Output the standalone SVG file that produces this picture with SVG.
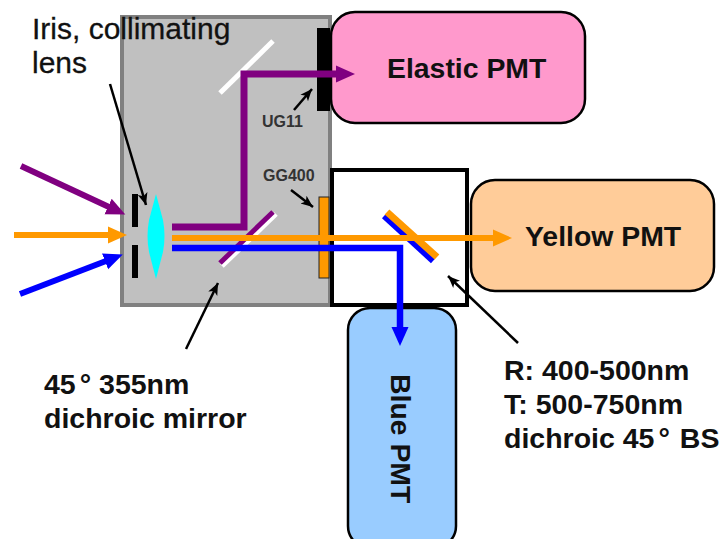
<svg xmlns="http://www.w3.org/2000/svg" width="723" height="539" viewBox="0 0 723 539">
<defs>
<style>
text{font-family:"Liberation Sans",Arial,sans-serif;font-weight:bold;fill:#111}
.lbl{font-size:28.500px}
.pmt{font-size:28.400px}
.small{font-size:16px;fill:#333}
.k{stroke:#000;fill:none}
.iris{font-weight:normal;font-size:30px;stroke:#111;stroke-width:.3}
</style>
<marker id="ap" markerUnits="userSpaceOnUse" markerWidth="20" markerHeight="20" refX="1" refY="10" orient="auto"><path d="M0 1.500L19 10L0 18.500Z" fill="#800080"/></marker>
<marker id="ao" markerUnits="userSpaceOnUse" markerWidth="20" markerHeight="20" refX="1" refY="10" orient="auto"><path d="M0 1.500L19 10L0 18.500Z" fill="#ff9900"/></marker>
<marker id="ab" markerUnits="userSpaceOnUse" markerWidth="20" markerHeight="20" refX="1" refY="10" orient="auto"><path d="M0 1.500L19 10L0 18.500Z" fill="#0000ff"/></marker>
<marker id="ak" markerUnits="userSpaceOnUse" markerWidth="14" markerHeight="12" refX="12" refY="6" orient="auto"><path d="M0 1L12 6L0 11L3 6Z" fill="#000"/></marker>
</defs>
<g id="housing"><rect x="122" y="17" width="208" height="288" fill="#c0c0c0" stroke="#808080" stroke-width="4"/></g>
<g id="elastic-pmt"><rect x="331" y="12" width="254" height="111" rx="24" fill="#ff99cc" stroke="#000" stroke-width="2.500"/><text class="pmt" x="387" y="78">Elastic PMT</text></g>
<g id="yellow-pmt"><rect x="471" y="180" width="243" height="111" rx="24" fill="#ffcc99" stroke="#000" stroke-width="2.500"/><text class="pmt" x="525" y="246">Yellow PMT</text></g>
<g id="blue-pmt"><rect x="348" y="308" width="108" height="240" rx="22" fill="#99ccff" stroke="#000" stroke-width="2.500"/><text class="pmt" transform="translate(391 374) rotate(90)">Blue PMT</text></g>
<g id="box"><rect x="332" y="170" width="135" height="135" fill="#fff" stroke="#000" stroke-width="4"/></g>
<g id="ug11-filter"><rect x="317" y="28" width="13" height="83" fill="#000"/></g>
<g id="gg400-filter"><rect x="319" y="197" width="10" height="81" fill="#ff9900" stroke="#222" stroke-width="1"/></g>
<g id="iris"><rect x="132" y="194" width="6" height="33" fill="#000"/><rect x="132" y="245" width="6" height="33" fill="#000"/></g>
<g id="lens"><path d="M156 194L163 220Q166 236 163 252L156 279L149 252Q146 236 149 220Z" fill="#00ffff"/></g>
<g id="mirrors">
<path d="M220 93L273 41" stroke="#fff" stroke-width="5"/>
<path d="M222 266L276 214" stroke="#fff" stroke-width="5"/>
<path d="M220 263L273 212" stroke="#800080" stroke-width="5"/>
<path d="M384 216L433 261" stroke="#0000ff" stroke-width="6"/>
<path d="M387 212L437 257" stroke="#ff9900" stroke-width="7"/>
</g>
<g id="connectors" fill="none">
<path d="M21 166L109 207" stroke="#800080" stroke-width="6" marker-end="url(#ap)"/>
<path d="M14 235L109 235" stroke="#ff9900" stroke-width="6" marker-end="url(#ao)"/>
<path d="M20 294L106 261" stroke="#0000ff" stroke-width="6" marker-end="url(#ab)"/>
<path d="M172 227H244V74H337" stroke="#800080" stroke-width="7" marker-end="url(#ap)"/>
<path d="M172 238H494" stroke="#ff9900" stroke-width="6" marker-end="url(#ao)"/>
<path d="M172 248H400V328" stroke="#0000ff" stroke-width="6.500" marker-end="url(#ab)"/>
<path class="k" d="M110 84L146 205" stroke-width="2.500" marker-end="url(#ak)"/>
<path class="k" d="M186 349L218 283" stroke-width="2.500" marker-end="url(#ak)"/>
<path class="k" d="M518 343L448 276" stroke-width="2.500" marker-end="url(#ak)"/>
<path class="k" d="M294 110L312 89" stroke-width="2.500" marker-end="url(#ak)"/>
<path class="k" d="M291 190L313 207" stroke-width="2.500" marker-end="url(#ak)"/>
</g>
<g id="labels">
<text class="iris" x="32" y="39">Iris, collimating</text>
<text class="iris" x="32" y="73">lens</text>
<text class="small" x="262" y="127">UG11</text>
<text class="small" x="263" y="181">GG400</text>
<text class="lbl" x="44" y="394">45<tspan dx="4">°</tspan> 355nm</text>
<text class="lbl" x="44" y="428">dichroic mirror</text>
<text class="lbl" x="504" y="380">R: 400-500nm</text>
<text class="lbl" x="504" y="414">T: 500-750nm</text>
<text class="lbl" x="504" y="448">dichroic 45<tspan dx="4">°</tspan> <tspan dx="2">BS</tspan></text>
</g>
</svg>
